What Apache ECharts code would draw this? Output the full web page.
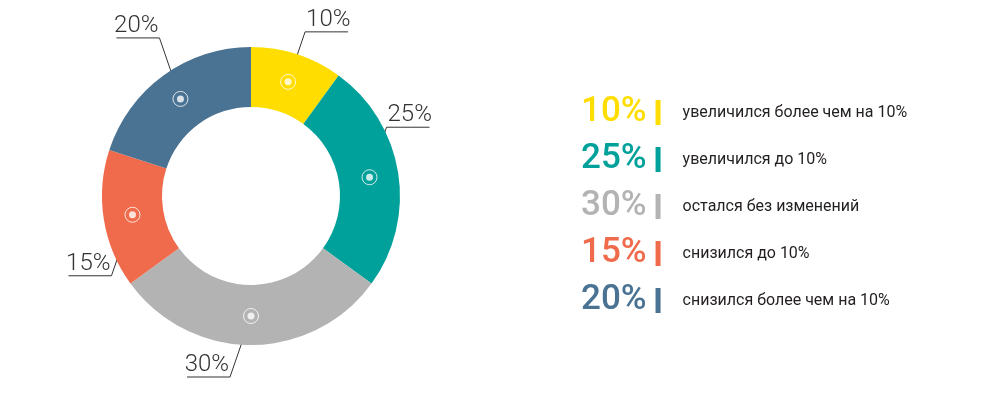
<!DOCTYPE html>
<html><head><meta charset="utf-8">
<script src="https://cdn.jsdelivr.net/npm/echarts@6/dist/echarts.min.js"></script>
<style>html,body{margin:0;padding:0;background:#fff}#c{width:1000px;height:400px}</style>
</head><body><div id="c"></div>
<script>
const categories = ['увеличился более чем на 10%', 'увеличился до 10%', 'остался без изменений', 'снизился до 10%', 'снизился более чем на 10%'];
const values = [10, 25, 30, 15, 20];
const colors = ['#FFDD00', '#00A19A', '#B3B3B3', '#EF6B4C', '#4A7292'];

const CX = 251, CY = 196, OUTER_R = 149, INNER_R = 89, MARK_R = 120, UL = 43;

const total = values.reduce((a, b) => a + b, 0);
let cum = 0;
const markerData = values.map(v => { const m = (cum + v / 2) / total * 100; cum += v; return [MARK_R, m]; });

const rich = {
  g: { width: 9, height: 25 },
  s: { width: 22, height: 25 },
  t: { fontSize: 16, fontFamily: 'Roboto', color: '#231f20', lineHeight: 30 }
};
colors.forEach((c, i) => {
  rich['p' + i] = { fontSize: 35, fontWeight: 500, fontFamily: 'Roboto', color: c, lineHeight: 30 };
  rich['b' + i] = { width: 5, height: 25, backgroundColor: c };
});

const chart = echarts.init(document.getElementById('c'), null, { renderer: 'canvas' });
chart.setOption({
  animation: false,
  polar: { center: [CX, CY], radius: OUTER_R },
  angleAxis: { type: 'value', min: 0, max: 100, startAngle: 90, clockwise: true, show: false },
  radiusAxis: { type: 'value', min: 0, max: OUTER_R, show: false },
  legend: {
    orient: 'vertical', left: 576, top: 95, padding: 0, itemGap: 12,
    icon: 'none', itemWidth: 0, itemHeight: 0, selectedMode: false,
    data: categories,
    formatter: function (name) {
      const i = categories.indexOf(name);
      return '{p' + i + '|' + values[i] + '%}{g|}{b' + i + '|}{s|}{t|' + name + '}';
    },
    textStyle: { rich: rich }
  },
  series: [
    {
      type: 'pie', center: [CX, CY], radius: [INNER_R, OUTER_R], startAngle: 90, clockwise: true,
      avoidLabelOverlap: false, silent: true,
      data: categories.map((n, i) => ({ name: n, value: values[i], itemStyle: { color: colors[i] } })),
      label: {
        show: true, formatter: p => p.value + '%',
        fontFamily: 'Roboto', fontWeight: 300, fontSize: 24, color: '#333', lineHeight: 24
      },
      labelLine: { show: true, length: 10, length2: 10, lineStyle: { color: '#333', width: 1 } },
      labelLayout: function (p) {
        const a = p.labelLinePoints[0];
        const k = MARK_R / OUTER_R;
        const m = [CX + (a[0] - CX) * k, CY + (a[1] - CY) * k];
        const right = m[0] > CX + 5, up = m[1] < CY;
        const ex = m[0] + (right ? 17 : -21);
        const ey = m[1] + (up ? -1 : 1) * (right ? 50 : 61);
        const ux = ex + (right ? 1 : -1) * UL;
        return {
          x: right ? ex + 1 : ex - 1, y: ey,
          align: right ? 'left' : 'right', verticalAlign: 'bottom',
          labelLinePoints: [m, [ex, ey], [ux, ey]]
        };
      }
    },
    {
      type: 'scatter', coordinateSystem: 'polar', silent: true, z: 5,
      symbol: 'circle', symbolSize: 15,
      itemStyle: { color: 'rgba(0,0,0,0)', borderColor: '#fff', borderWidth: 1 },
      data: markerData
    },
    {
      type: 'scatter', coordinateSystem: 'polar', silent: true, z: 6,
      symbol: 'circle', symbolSize: 7,
      itemStyle: { color: '#fff' },
      data: markerData
    }
  ]
});
</script></body></html>
